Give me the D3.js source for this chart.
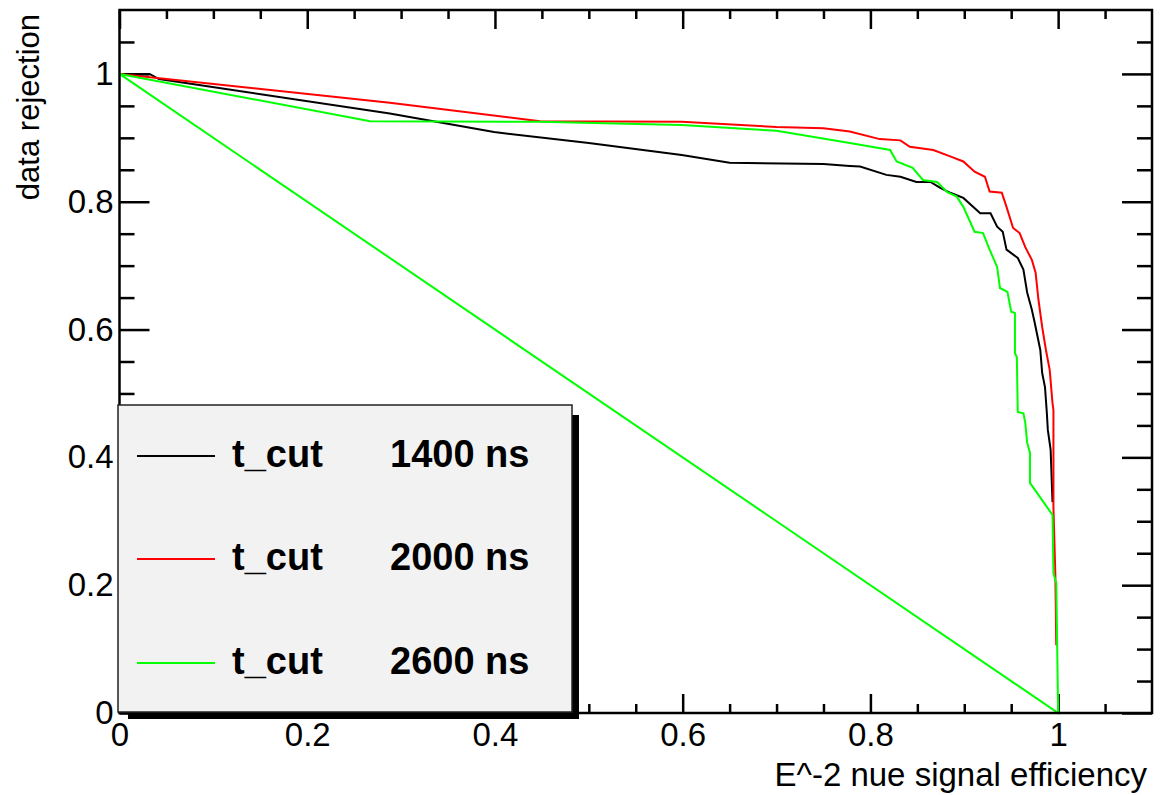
<!DOCTYPE html>
<html>
<head>
<meta charset="utf-8">
<script src="https://cdn.jsdelivr.net/npm/d3@7"></script>
<style>
  html, body { margin: 0; padding: 0; background: #fff; }
  svg { display: block; }
  text { font-family: "Liberation Sans", Arial, Helvetica, sans-serif; fill: #000; }
</style>
</head>
<body>
<svg id="chart" width="1165" height="795"></svg>
<script>
// ROC curves: signal efficiency vs. background (data) rejection for three timing cuts
const cutLabels = ["1400 ns", "2000 ns", "2600 ns"];
const cutColors = ["#000000", "#ff0000", "#00ff00"];

const eff1400 = [0, 0.032, 0.042, 0.288, 0.399, 0.500, 0.599, 0.650, 0.750, 0.778, 0.789, 0.817, 0.832, 0.849, 0.864, 0.874, 0.885, 0.899, 0.917, 0.928, 0.935, 0.941, 0.945, 0.957, 0.963, 0.967, 0.972, 0.975, 0.981, 0.983, 0.986, 0.988, 0.989, 0.992, 0.994];
const rej1400 = [1, 1.000, 0.992, 0.938, 0.909, 0.892, 0.873, 0.861, 0.859, 0.856, 0.855, 0.842, 0.839, 0.831, 0.831, 0.822, 0.814, 0.806, 0.782, 0.782, 0.761, 0.753, 0.725, 0.712, 0.694, 0.658, 0.631, 0.611, 0.568, 0.532, 0.510, 0.469, 0.443, 0.412, 0.330];

const eff2000 = [0, 0.288, 0.448, 0.599, 0.700, 0.750, 0.778, 0.810, 0.832, 0.842, 0.867, 0.885, 0.899, 0.911, 0.922, 0.927, 0.940, 0.945, 0.952, 0.959, 0.965, 0.972, 0.976, 0.979, 0.983, 0.987, 0.991, 0.994, 0.995, 0.995, 0.997, 0.998];
const rej2000 = [1, 0.955, 0.926, 0.925, 0.917, 0.915, 0.910, 0.898, 0.896, 0.886, 0.881, 0.871, 0.863, 0.847, 0.839, 0.816, 0.814, 0.792, 0.759, 0.751, 0.729, 0.709, 0.689, 0.647, 0.604, 0.568, 0.537, 0.485, 0.474, 0.321, 0.219, 0.106];

const eff2600 = [0, 0.267, 0.448, 0.599, 0.700, 0.778, 0.821, 0.828, 0.845, 0.856, 0.871, 0.882, 0.892, 0.899, 0.911, 0.920, 0.927, 0.935, 0.938, 0.946, 0.950, 0.954, 0.954, 0.956, 0.957, 0.963, 0.965, 0.967, 0.970, 0.970, 0.994, 0.995, 0.998, 1.0, 0];
const rej2600 = [1, 0.926, 0.925, 0.920, 0.911, 0.892, 0.881, 0.863, 0.853, 0.834, 0.831, 0.815, 0.808, 0.792, 0.753, 0.751, 0.725, 0.698, 0.665, 0.659, 0.628, 0.626, 0.563, 0.557, 0.471, 0.469, 0.454, 0.423, 0.407, 0.360, 0.310, 0.219, 0.203, 0, 1];

const xMajorTicks = [0, 0.2, 0.4, 0.6, 0.8, 1.0];
const yMajorTicks = [0, 0.2, 0.4, 0.6, 0.8, 1.0];
const minorTicks = [0.05, 0.1, 0.15, 0.25, 0.3, 0.35, 0.45, 0.5, 0.55, 0.65, 0.7, 0.75, 0.85, 0.9, 0.95, 1.05];

const xTitle = "E^-2 nue signal efficiency";
const yTitle = "data rejection";

const svg = d3.select("#chart");
const frame = { left: 119.5, right: 1152, top: 10, bottom: 713 };

const x = d3.scaleLinear().domain([0, 1.1]).range([frame.left, frame.right]);
const y = d3.scaleLinear().domain([0, 1.1]).range([frame.bottom, frame.top]);
const fmt = d3.format("~g");

const tickStroke = 2.5;
function styleAxis(g) {
  g.select(".domain").remove();
  g.selectAll(".tick line").attr("stroke", "#000").attr("stroke-width", tickStroke);
  g.attr("font-family", null).attr("font-size", null);
}

// bottom axis with labels, ticks pointing inward
svg.append("g")
  .attr("transform", `translate(0,${frame.bottom})`)
  .call(d3.axisBottom(x).tickValues(xMajorTicks).tickSize(-19).tickPadding(10).tickFormat(fmt))
  .call(styleAxis)
  .call(g => g.selectAll(".tick text").style("font-size", "33px"));
svg.append("g")
  .attr("transform", `translate(0,${frame.bottom})`)
  .call(d3.axisBottom(x).tickValues(minorTicks).tickSize(-9).tickFormat(""))
  .call(styleAxis);

// top axis (ticks only)
svg.append("g")
  .attr("transform", `translate(0,${frame.top})`)
  .call(d3.axisTop(x).tickValues(xMajorTicks).tickSize(-19).tickFormat(""))
  .call(styleAxis);
svg.append("g")
  .attr("transform", `translate(0,${frame.top})`)
  .call(d3.axisTop(x).tickValues(minorTicks).tickSize(-9).tickFormat(""))
  .call(styleAxis);

// left axis with labels
svg.append("g")
  .attr("transform", `translate(${frame.left},0)`)
  .call(d3.axisLeft(y).tickValues(yMajorTicks).tickSize(-30).tickPadding(6).tickFormat(fmt))
  .call(styleAxis)
  .call(g => g.selectAll(".tick text").style("font-size", "33px"));
svg.append("g")
  .attr("transform", `translate(${frame.left},0)`)
  .call(d3.axisLeft(y).tickValues(minorTicks).tickSize(-15).tickFormat(""))
  .call(styleAxis);

// right axis (ticks only)
svg.append("g")
  .attr("transform", `translate(${frame.right},0)`)
  .call(d3.axisRight(y).tickValues(yMajorTicks).tickSize(-30).tickFormat(""))
  .call(styleAxis);
svg.append("g")
  .attr("transform", `translate(${frame.right},0)`)
  .call(d3.axisRight(y).tickValues(minorTicks).tickSize(-15).tickFormat(""))
  .call(styleAxis);

// curves
const line = d3.line().x(d => x(d[0])).y(d => y(d[1]));
const series = [
  { eff: eff1400, rej: rej1400 },
  { eff: eff2000, rej: rej2000 },
  { eff: eff2600, rej: rej2600 }
];
series.forEach((s, i) => {
  svg.append("path")
    .datum(d3.zip(s.eff, s.rej))
    .attr("d", line)
    .attr("fill", "none")
    .attr("stroke", cutColors[i])
    .attr("stroke-width", 2)
    .attr("stroke-linejoin", "miter");
});

// frame
svg.append("rect")
  .attr("x", frame.left).attr("y", frame.top)
  .attr("width", frame.right - frame.left).attr("height", frame.bottom - frame.top)
  .attr("fill", "none").attr("stroke", "#000").attr("stroke-width", 2.5);

// axis titles
svg.append("text")
  .attr("x", 1147).attr("y", 786)
  .attr("text-anchor", "end")
  .style("font-size", "33px")
  .text(xTitle);
svg.append("text")
  .attr("transform", "translate(39,14) rotate(-90)")
  .attr("text-anchor", "end")
  .style("font-size", "31px")
  .text(yTitle);

// legend box with drop shadow
const leg = { x: 118, y: 405, w: 454, h: 307, shadow: 7 };
svg.append("rect")
  .attr("x", leg.x + 10).attr("y", leg.y + 10)
  .attr("width", leg.w - 10 + leg.shadow).attr("height", leg.h - 10 + leg.shadow)
  .attr("fill", "#000");
svg.append("rect")
  .attr("x", leg.x).attr("y", leg.y)
  .attr("width", leg.w).attr("height", leg.h)
  .attr("fill", "#f2f2f2").attr("stroke", "#222").attr("stroke-width", 1.5);

const legRows = [456, 559, 663];
cutLabels.forEach((lab, i) => {
  const ly = legRows[i];
  svg.append("line")
    .attr("x1", 137).attr("x2", 215).attr("y1", ly).attr("y2", ly)
    .attr("stroke", cutColors[i]).attr("stroke-width", 2);
  svg.append("text")
    .attr("x", 232).attr("y", ly + 11)
    .style("font-size", "38px").style("font-weight", "bold")
    .text("t_cut");
  svg.append("text")
    .attr("x", 390).attr("y", ly + 11)
    .style("font-size", "38px").style("font-weight", "bold")
    .text(lab);
});
</script>
</body>
</html>
